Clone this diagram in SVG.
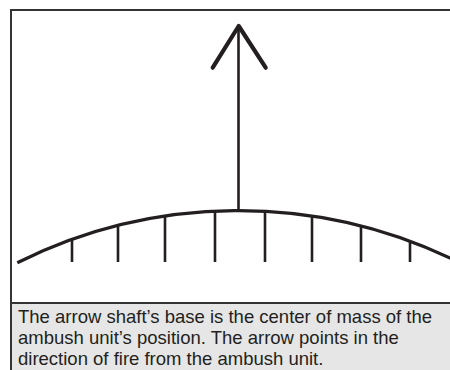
<svg xmlns="http://www.w3.org/2000/svg" width="450" height="370" viewBox="0 0 450 370">
<style>
.ink{stroke:#231f20;fill:none}
.tick{stroke:#231f20;stroke-width:2.6;fill:none}
.cap{font-family:"Liberation Sans",Arial,sans-serif;font-size:18.5px;fill:#231f20}
</style>
<rect x="0" y="0" width="450" height="370" fill="#ffffff"/>
<g id="frame">
<rect x="11" y="10" width="460" height="380" fill="#ffffff" stroke="#333333" stroke-width="2"/>
<rect x="12" y="303" width="450" height="80" fill="#e6e6e6"/>
<line x1="11" y1="303" x2="460" y2="303" stroke="#333333" stroke-width="2"/>
</g>
<g id="position">
<path class="ink" stroke-width="3.2" d="M17.3,262.7 A495.6,495.6 0 0 1 452,259"/>
<line class="tick" x1="72" y1="239" x2="72" y2="262"/>
<line class="tick" x1="118" y1="225" x2="118" y2="262"/>
<line class="tick" x1="165" y1="216" x2="165" y2="262"/>
<line class="tick" x1="215" y1="211" x2="215" y2="262"/>
<line class="tick" x1="265" y1="211" x2="265" y2="262"/>
<line class="tick" x1="312" y1="216" x2="312" y2="262"/>
<line class="tick" x1="361" y1="226" x2="361" y2="262"/>
<line class="tick" x1="410" y1="241" x2="410" y2="262"/>
</g>
<g id="arrow">
<line class="ink" stroke-width="2.6" x1="238.5" y1="26" x2="238.5" y2="211"/>
<polyline class="ink" stroke-width="4.2" stroke-linecap="round" stroke-linejoin="round" points="212.7,67.7 238.7,26 265.7,67.7"/>
</g>
<g id="caption">
<text class="cap" x="18" y="323">The arrow shaft’s base is the center of mass of the</text>
<text class="cap" x="18" y="344">ambush unit’s position. The arrow points in the</text>
<text class="cap" x="18" y="365">direction of fire from the ambush unit.</text>
</g>
</svg>
